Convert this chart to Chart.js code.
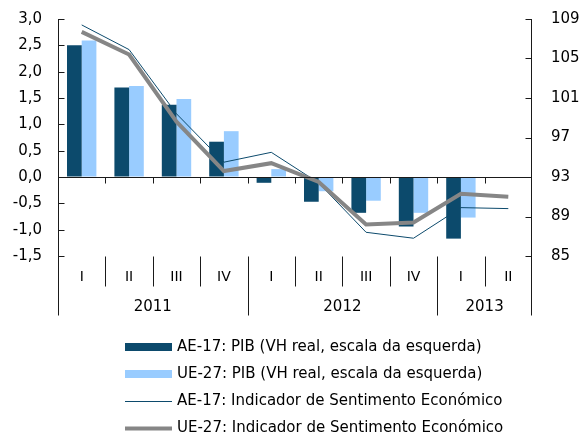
<!DOCTYPE html>
<html>
<head>
<meta charset="utf-8">
<script src="https://cdn.jsdelivr.net/npm/chart.js@4/dist/chart.umd.min.js"></script>
<style>
  html, body { margin: 0; padding: 0; background: #fff; }
  #wrap { width: 584px; height: 434px; }
</style>
</head>
<body>
<div id="wrap"><canvas id="chart" width="584" height="434"></canvas></div>
<script>
// quarters on the category axis and the years grouping them
const quarters = ['I', 'II', 'III', 'IV', 'I', 'II', 'III', 'IV', 'I', 'II'];
const years = ['2011', '2012', '2013'];
const yearSpans = [4, 4, 2];

// GDP, real yoy change (left axis)
const ae17Pib = [2.5, 1.7, 1.37, 0.67, -0.11, -0.47, -0.68, -0.94, -1.17, null];
const ue27Pib = [2.59, 1.73, 1.48, 0.87, 0.15, -0.27, -0.45, -0.68, -0.77, null];
// economic sentiment indicator (right axis)
const ae17Esi = [108.4, 105.9, 99.4, 94.5, 95.5, 92.4, 87.4, 86.8, 89.9, 89.8];
const ue27Esi = [107.7, 105.4, 98.6, 93.6, 94.4, 92.5, 88.2, 88.4, 91.3, 91.0];

const labelsLegend = [
  'AE-17: PIB (VH real, escala da esquerda)',
  'UE-27: PIB (VH real, escala da esquerda)',
  'AE-17: Indicador de Sentimento Económico',
  'UE-27: Indicador de Sentimento Económico'
];

const darkBlue = '#0c4a6c';
const lightBlue = '#99ccff';
const grey = '#868686';
const axisColor = '#1a1a1a';
const fontFamily = '"DejaVu Sans", Arial, sans-serif';

// axes, separators, category labels and legend
const decoPlugin = {
  id: 'deco',
  afterDraw(chart) {
    const ctx = chart.ctx;
    const x = chart.scales.x, y = chart.scales.y, y1 = chart.scales.y1;
    const area = chart.chartArea;
    const edge = k => Math.round(x.getPixelForValue(k - 0.5)) + 0.5;
    const y0 = Math.round(y.getPixelForValue(0)) + 0.5;
    const bottom = Math.round(area.bottom) + 0.5;

    ctx.save();
    ctx.strokeStyle = axisColor;
    ctx.lineWidth = 1;
    ctx.beginPath();
    // zero line with small ticks at quarter boundaries
    ctx.moveTo(area.left, y0); ctx.lineTo(area.right, y0);
    for (let k = 1; k < quarters.length; k++) {
      ctx.moveTo(edge(k), y0); ctx.lineTo(edge(k), y0 + 6);
    }
    // vertical axes, running down through the category labels
    const lx = Math.round(area.left) + 0.5, rx = Math.round(area.right) - 0.5;
    ctx.moveTo(lx, area.top); ctx.lineTo(lx, bottom + 59);
    ctx.moveTo(rx, area.top); ctx.lineTo(rx, bottom + 59);
    // inside ticks
    y.ticks.forEach(t => {
      const p = Math.round(y.getPixelForValue(t.value)) + 0.5;
      ctx.moveTo(lx, p); ctx.lineTo(lx + 6, p);
    });
    y1.ticks.forEach(t => {
      const p = Math.round(y1.getPixelForValue(t.value)) + 0.5;
      ctx.moveTo(rx, p); ctx.lineTo(rx - 6, p);
    });
    // quarter separators and year separators
    let acc = 0;
    const yearEdges = [0];
    yearSpans.forEach(s => { acc += s; yearEdges.push(acc); });
    for (let k = 1; k < quarters.length; k++) {
      const long = yearEdges.includes(k);
      ctx.moveTo(edge(k), bottom); ctx.lineTo(edge(k), bottom + (long ? 59 : 30));
    }
    ctx.stroke();

    // category labels
    ctx.fillStyle = '#000';
    ctx.font = '14px ' + fontFamily;
    ctx.textAlign = 'center';
    ctx.textBaseline = 'middle';
    quarters.forEach((q, i) => ctx.fillText(q, x.getPixelForValue(i), bottom + 21));
    ctx.font = '15px ' + fontFamily;
    let start = 0;
    years.forEach((yr, i) => {
      const mid = start + yearSpans[i] / 2 - 0.5;
      ctx.fillText(yr, x.getPixelForValue(mid), bottom + 51);
      start += yearSpans[i];
    });

    // legend, stacked vertically
    ctx.textAlign = 'left';
    ctx.font = '15px ' + fontFamily;
    chart.data.datasets.forEach((ds, i) => {
      const cy = 347 + i * 27;
      if (ds.type === 'bar') {
        ctx.fillStyle = ds.backgroundColor;
        ctx.fillRect(125, cy - 4, 47, 8);
      } else {
        ctx.strokeStyle = ds.borderColor;
        ctx.lineWidth = ds.borderWidth;
        ctx.beginPath();
        ctx.moveTo(125, cy + 0.5); ctx.lineTo(172, cy + 0.5);
        ctx.stroke();
      }
      ctx.fillStyle = '#000';
      ctx.fillText(ds.label, 177, cy);
    });
    ctx.restore();
  }
};

// hidden grid ticks only push the labels away from the axis
const hiddenGrid = len => ({ display: true, drawOnChartArea: false, drawTicks: true,
  tickLength: len, tickColor: 'rgba(0,0,0,0)' });

new Chart(document.getElementById('chart'), {
  data: {
    labels: quarters,
    datasets: [
      { type: 'bar', label: labelsLegend[0], data: ae17Pib, backgroundColor: darkBlue, yAxisID: 'y', order: 3,
        categoryPercentage: 0.62, barPercentage: 1.0 },
      { type: 'bar', label: labelsLegend[1], data: ue27Pib, backgroundColor: lightBlue, yAxisID: 'y', order: 3,
        categoryPercentage: 0.62, barPercentage: 1.0 },
      { type: 'line', label: labelsLegend[2], data: ae17Esi, borderColor: darkBlue, borderWidth: 1,
        pointRadius: 0, yAxisID: 'y1', order: 1, tension: 0 },
      { type: 'line', label: labelsLegend[3], data: ue27Esi, borderColor: grey, borderWidth: 4,
        pointRadius: 0, yAxisID: 'y1', order: 0, tension: 0 }
    ]
  },
  options: {
    responsive: false,
    animation: false,
    layout: { padding: { top: 19, left: 0, right: 0, bottom: 0 } },
    plugins: { legend: { display: false }, tooltip: { enabled: false } },
    scales: {
      x: {
        grid: { display: false }, border: { display: false },
        ticks: { display: false },
        afterFit: s => { s.height = 178; }
      },
      y: {
        position: 'left', min: -1.5, max: 3,
        grid: hiddenGrid(16), border: { display: false },
        ticks: { stepSize: 0.5, padding: 0, color: '#000', font: { family: fontFamily, size: 15 },
          callback: v => v.toFixed(1).replace('.', ',') },
        afterFit: s => { s.width = 58; }
      },
      y1: {
        position: 'right', min: 85, max: 109,
        grid: hiddenGrid(19), border: { display: false },
        ticks: { stepSize: 4, padding: 0, color: '#000', font: { family: fontFamily, size: 15 } },
        afterFit: s => { s.width = 52; }
      }
    }
  },
  plugins: [decoPlugin]
});
</script>
</body>
</html>
